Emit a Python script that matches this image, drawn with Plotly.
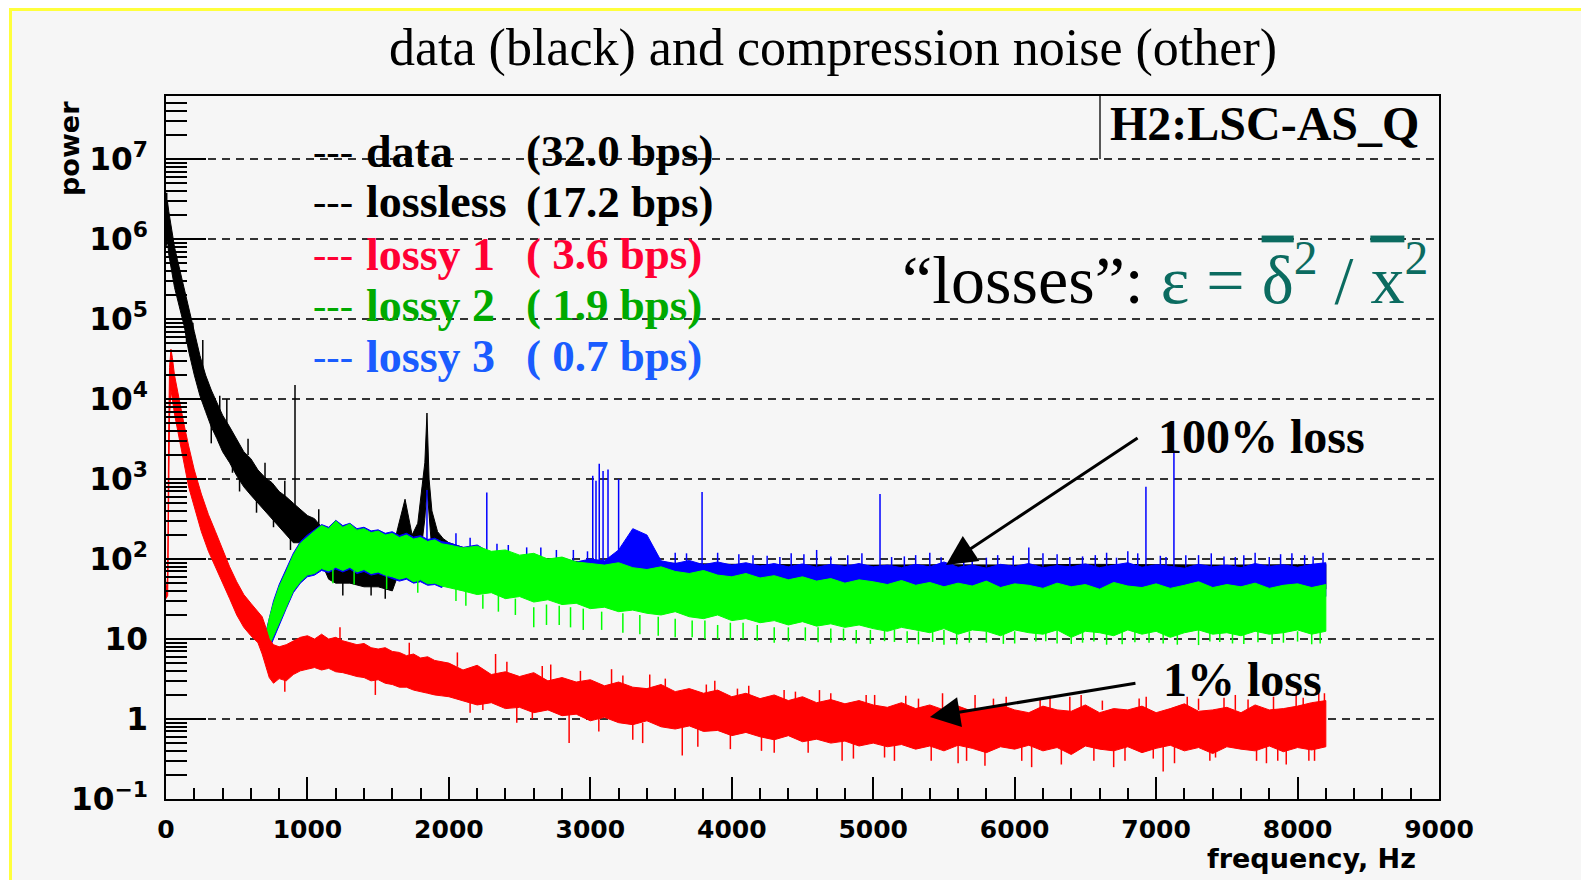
import plotly.graph_objects as go

# ---------------- data ----------------
HF_F = [2000, 2100, 2200, 2300, 2400, 2500, 2600, 2700, 2800, 2900,
        3000, 3100, 3200, 3300, 3400, 3500, 3600, 3700, 3800, 3900,
        4000, 4100, 4200, 4300, 4400, 4500, 4600, 4700, 4800, 4900,
        5000, 5100, 5200, 5300, 5400, 5500, 5600, 5700, 5800, 5900,
        6000, 6100, 6200, 6300, 6400, 6500, 6600, 6700, 6800, 6900,
        7000, 7100, 7200, 7300, 7400, 7500, 7600, 7700, 7800, 7900,
        8000, 8100, 8200]

# black: data
DATA_F = [0, 10, 20, 40, 60, 80, 100, 130, 160, 200, 240, 280, 320, 360, 400, 450, 500, 550, 600, 650,
          700, 750, 800, 850, 900, 950, 1000, 1050, 1100, 1150, 1200, 1300, 1400, 1500, 1600, 1640, 1690,
          1740, 1780, 1810, 1830, 1845, 1860, 1880, 1920, 1960, 2000, 2100, 2200, 2300, 2400, 2500,
          3000, 3500, 4000, 4500, 5000, 5500, 6000, 6500, 7000, 7500, 8000, 8200]
DATA_UP = [2.5e6, 3.0e6, 2.2e6, 1.3e6, 8.0e5, 5.6e5, 4.0e5, 2.5e5, 1.4e5, 7.0e4, 3.5e4, 2.0e4, 1.3e4, 9.0e3,
           6.3e3, 4.5e3, 3.2e3, 2.2e3, 1.8e3, 1.3e3, 1.05e3, 900, 700, 600, 500, 420, 350, 320, 250, 160,
           140, 125, 125, 110, 125, 250, 560, 200, 280, 800, 1600, 6700, 1000, 400, 220, 180, 160, 140,
           125, 110, 105, 100, 92, 88, 86, 85, 84, 85, 84, 86, 85, 84, 85, 86]
DATA_LO = [8e5, 1e6, 6.3e5, 4e5, 2.5e5, 1.8e5, 1.26e5, 8e4, 4e4, 2e4, 1.1e4, 7e3, 4.5e3, 3.2e3, 2.2e3,
           1.6e3, 1.1e3, 800, 630, 500, 400, 320, 250, 200, 160, 160, 140, 125, 90, 56, 50, 50, 45, 45,
           40, 63, 125, 70, 80, 160, 320, 800, 320, 125, 80, 63, 63, 56, 52, 50, 48, 45, 42, 42, 42, 42,
           42, 42, 42, 42, 42, 42, 42, 42]
DATA_SPIKE_F = [5, 145, 190, 260, 320, 380, 430, 470, 520, 580, 640, 700, 760, 840, 880, 912, 1000,
                1080, 1250, 1450, 1550]
DATA_SPIKE_LO = [1.0e6, 5.0e4, 5.0e4, 2.0e4, 2800, 6000, 3.0e3, 1200, 700, 2000, 380, 900, 250, 550,
                 130, 200, 100, 230, 35, 35, 32]
DATA_SPIKE_HI = [3.8e6, 1.2e5, 9.0e4, 5.5e4, 5000, 1.1e4, 1.0e4, 2000, 1300, 3200, 630, 1600, 400, 950,
                 220, 1.5e4, 160, 420, 55, 50, 48]

# red: lossy 1
RED_F = [0, 12, 18, 25, 35, 45, 60, 80, 100, 130, 160, 200, 250, 300, 350, 400, 450, 500, 550, 600,
         650, 680, 700, 730, 760, 800, 850, 900, 950, 1000, 1050, 1100, 1150, 1200, 1250, 1300, 1350,
         1400, 1450, 1500, 1550, 1600, 1650, 1700, 1750, 1800, 1850, 1900, 1950] + HF_F
RED_UP = [40, 60, 3000, 2.5e4, 4.2e4, 3.3e4, 2.0e4, 1.3e4, 8000, 4600, 2600, 1300, 650, 360, 220, 130,
          80, 52, 36, 28, 22, 19, 15, 10, 8.5, 8, 8.5, 9.5, 10.5, 11, 10, 11.5, 10, 10.5, 9.5, 9, 8.5,
          8.8, 7.8, 7.5, 7.8, 7, 6.8, 6.2, 6.5, 5.8, 6, 5.4, 5.2,
          5.0, 4.1, 4.7, 3.6, 3.9, 3.4, 3.8, 3.0, 3.3, 2.9, 3.1, 2.6, 2.9, 2.5, 2.4, 2.7, 2.2, 2.4, 2.1,
          2.3, 1.9, 2.1, 1.8, 2.0, 1.7, 1.9, 1.6, 1.75, 1.55, 1.7, 1.5, 1.4, 1.6, 1.35, 1.5, 1.3, 1.45,
          1.25, 1.4, 1.5, 1.3, 1.2, 1.45, 1.3, 1.25, 1.5, 1.2, 1.35, 1.3, 1.45, 1.2, 1.35, 1.55, 1.25,
          1.3, 1.4, 1.2, 1.5, 1.3, 1.35, 1.45, 1.6, 1.7]
RED_LO = [32, 35, 300, 6000, 1.3e4, 1.0e4, 6500, 4500, 2800, 1500, 800, 450, 220, 125, 80, 50, 32, 20,
          14, 11, 9, 6.5, 5, 3.3, 2.8, 3.2, 3.0, 3.6, 4.0, 4.2, 4.4, 4.1, 4.3, 3.9, 3.8, 3.6, 3.4, 3.3,
          3.0, 3.1, 2.8, 2.7, 2.5, 2.5, 2.3, 2.2, 2.1, 2.0, 1.95,
          1.9, 1.7, 1.5, 1.6, 1.35, 1.4, 1.2, 1.3, 1.1, 1.15, 0.95, 1.05, 0.9, 0.85, 0.95, 0.8, 0.75,
          0.82, 0.7, 0.72, 0.62, 0.68, 0.6, 0.55, 0.62, 0.52, 0.56, 0.5, 0.53, 0.46, 0.5, 0.45, 0.48,
          0.42, 0.46, 0.4, 0.47, 0.43, 0.38, 0.45, 0.42, 0.47, 0.4, 0.44, 0.36, 0.46, 0.42, 0.4, 0.45,
          0.38, 0.43, 0.47, 0.4, 0.44, 0.37, 0.45, 0.42, 0.4, 0.46, 0.39, 0.44, 0.41, 0.45]
RED_SPIKE_F = [840, 1230, 1480, 1720, 2150, 2330, 2480, 2720, 2850, 3150, 3300, 3420, 3650, 3880, 3990,
               4120, 4300, 4450, 4620, 4780, 4950, 5080, 5230, 5410, 5600, 5720, 5850, 6120, 6250, 6390,
               6560, 6700, 6880, 6980, 7050, 7220, 7380, 7480, 7650, 7780, 7860, 7990, 8080, 8150,
               2060, 2240, 2410, 2590, 2660, 2930, 3060, 3230, 3370, 3530, 3760, 3820, 4040, 4210,
               4370, 4540, 4700, 4860, 5010, 5150, 5320, 5490, 5660, 5790, 5940, 6050, 6180, 6330,
               6470, 6620, 6780, 6930, 7130, 7300, 7420, 7560, 7710, 7830, 7920, 8040, 8120, 8190]
RED_SPIKE_LO = [2.2, 8, 2.0, 5, 1.2, 3.5, 0.9, 2.8, 0.5, 2.5, 0.55, 2.2, 0.35, 1.9, 0.42,
                1.7, 0.38, 1.0, 1.5, 0.3, 1.4, 0.33, 1.3, 0.3, 0.28, 1.3, 1.3, 0.25, 1.3, 1.0,
                0.3, 0.25, 1.3, 0.32, 0.22, 1.3, 0.3, 1.0, 1.3, 0.28, 0.3, 1.3, 0.3, 1.0,
                4.5, 1.3, 3.6, 1.0, 3.2, 2.8, 0.7, 2.5, 0.5, 2.1, 0.45, 1.9, 1.8, 0.4,
                1.6, 0.38, 1.5, 0.32, 1.4, 0.3, 1.3, 1.3, 0.3, 0.26, 1.3, 0.3, 1.3, 0.27,
                1.3, 1.3, 0.3, 1.3, 0.28, 1.3, 0.33, 1.3, 0.3, 1.3, 0.27, 1.3, 0.3, 1.4]
RED_SPIKE_HI = [5.0, 14, 4.0, 9, 2.0, 6.5, 1.6, 4.8, 1.2, 4.2, 1.0, 3.6, 0.8, 3.0, 0.7,
                2.6, 0.6, 2.2, 2.3, 0.6, 2.0, 0.55, 1.95, 0.5, 0.5, 2.0, 1.8, 0.5, 1.85, 1.9,
                0.5, 0.5, 1.8, 0.5, 0.5, 1.9, 0.5, 1.85, 1.75, 0.5, 0.5, 2.0, 0.5, 2.4,
                6.8, 2.2, 5.2, 1.6, 4.6, 4.0, 1.1, 3.5, 0.9, 3.2, 0.75, 2.7, 2.4, 0.65,
                2.3, 0.55, 2.1, 0.52, 2.0, 0.5, 1.8, 2.1, 0.45, 0.45, 1.9, 0.45, 1.75, 0.45,
                2.0, 1.7, 0.45, 1.9, 0.45, 1.8, 0.45, 2.0, 0.45, 1.9, 0.45, 1.85, 0.45, 2.1]

# green: lossy 2
LOW_F = [700, 730, 760, 800, 850, 900, 950, 1000, 1050, 1100, 1150, 1200, 1250, 1300, 1350, 1400,
         1450, 1500, 1550, 1600, 1650, 1700, 1750, 1800, 1850, 1900, 1950]
GREEN_F = LOW_F + HF_F
GREEN_UP = [10, 18, 28, 45, 70, 112, 158, 190, 224, 263, 240, 300, 250, 275, 230, 240, 214, 224, 200,
            209, 186, 200, 178, 186, 166, 174, 155,
            150, 138, 145, 125, 130, 112, 118, 100, 106, 92, 88, 84, 90, 78, 74, 80, 70, 66, 72, 63,
            60, 66, 58, 62, 55, 60, 53, 57, 50, 55, 52, 48, 54, 47, 51, 45, 50, 46, 53, 44, 49, 47,
            43, 50, 45, 48, 42, 51, 46, 44, 49, 43, 47, 52, 44, 48, 45, 50, 43, 47, 49, 44, 48]
GREEN_LO = [6.3, 8, 11, 16, 25, 40, 52, 63, 66, 76, 71, 79, 72, 79, 69, 74, 66, 69, 63, 60, 56, 59,
            52, 55, 49, 50, 46,
            44, 40, 36, 38, 32, 34, 29, 31, 27, 28, 24, 25, 22, 23, 21, 20, 22, 19, 18, 20, 17, 18, 16,
            17, 15, 16.5, 14.5, 15.5, 14, 15, 13.5, 12.5, 14, 13, 12, 13.5, 11.5, 13, 12.5, 11, 13, 12,
            11.5, 13, 10.5, 12.5, 12, 11, 13, 11.5, 12.5, 10.5, 12, 13, 11.5, 12, 11, 12.5, 11.5, 12,
            13, 11.5, 12.5]
GREEN_SPIKE_F = [1180, 1330, 1560, 1780, 2120, 2350, 2600, 2780, 2950, 3230, 3480, 3720, 3900, 4080,
                 4300, 4520, 4700, 4880, 5150, 5320, 5500, 5680, 5920, 6150, 6300, 6480, 6650, 6850,
                 7050, 7300, 7450, 7620, 7900, 8100,
                 2050, 2240, 2470, 2690, 2860, 3080, 3350, 3600, 3810, 3990, 4180, 4400, 4610, 4790,
                 4980, 5080, 5240, 5420, 5590, 5800, 6000, 6220, 6400, 6560, 6760, 6950, 7150, 7380,
                 7540, 7720, 7820, 8000, 8160]
GREEN_SPIKE_LO = [50, 48, 42, 38, 26, 22, 14, 15, 13, 12, 11, 10.5, 10, 10, 9, 9.5, 9, 8.8, 9.2, 8.6,
                  8.5, 9, 8.7, 9.3, 8.8, 9, 8.5, 9.1, 8.8, 8.4, 9.2, 8.7, 9, 8.6,
                  30, 24, 20, 15, 14, 13, 11.5, 10.5, 10, 9.8, 9.5, 9.3, 9.1, 9.5,
                  8.7, 9.4, 8.9, 9.2, 8.6, 9.0, 8.8, 9.4, 8.7, 9.3, 8.6, 9.0, 8.5, 9.3,
                  8.8, 9.1, 8.7, 9.3, 8.8]
GREEN_SPIKE_HI = [75, 72, 62, 55, 40, 35, 25, 26, 24, 21, 19, 17, 15, 16, 14, 14, 13.5, 13, 13, 12.5,
                  13, 12.5, 12.5, 12.5, 13, 12.5, 12.5, 12.5, 12.5, 13, 12.5, 12.5, 13, 12.5,
                  44, 36, 32, 27, 25, 22, 20, 18, 17, 16, 15, 14, 14, 13.5,
                  13, 13, 12.5, 12.5, 12.5, 12.5, 12.5, 12.5, 12.5, 12.5, 12.5, 12.5, 12.5, 12.5,
                  12.5, 12.5, 12.5, 12.5, 12.5]

# blue: lossy 3
BLUE_F = LOW_F + HF_F
BLUE_UP = [11, 19, 30, 48, 75, 118, 165, 200, 232, 270, 250, 305, 262, 280, 240, 250, 225, 232, 210,
           220, 196, 210, 188, 196, 176, 182, 165,
           160, 140, 150, 118, 125, 105, 112, 98, 104, 92, 100, 95, 130, 240, 200, 95, 88, 96, 85, 92,
           84, 90, 82, 88, 80, 87, 79, 86, 81, 88, 80, 84, 78, 86, 80, 92, 79, 84, 77, 86, 81, 88, 78,
           83, 80, 87, 78, 84, 90, 79, 85, 81, 77, 86, 80, 84, 78, 88, 81, 85, 79, 86, 90]
BLUE_LO = [6, 7.5, 10.5, 15, 24, 38, 50, 60, 63, 72, 68, 75, 69, 75, 66, 70, 63, 66, 60, 57, 53, 56,
           50, 52, 47, 48, 44,
           55, 52, 50, 48, 46, 44, 43, 42, 41, 40, 40, 39, 45, 60, 55, 38, 37, 36, 36, 35, 35, 34, 35,
           34, 33, 34, 33, 34, 33, 34, 33, 33, 34, 33, 32, 34, 33, 32, 33, 34, 33, 32, 33, 34, 32, 33,
           34, 33, 32, 33, 34, 33, 32, 33, 34, 33, 32, 33, 34, 33, 32, 33, 34]
BLUE_SPIKE_F = [1845, 2050, 2268, 2420, 2650, 2880, 3017, 3040, 3063, 3090, 3125, 3200, 3600, 3790,
                4050, 4250, 4420, 4600, 4820, 5048, 5220, 5400, 5560, 5700, 5880, 6100, 6300, 6480,
                6650, 6800, 6928, 7030, 7126, 7300, 7480, 7700, 7880, 8050, 8180,
                2150, 2340, 2550, 2760, 2980, 3450, 3680, 3900, 4150, 4340, 4510, 4700, 4920, 5130,
                5300, 5480, 5640, 5800, 5990, 6200, 6390, 6570, 6720, 6870, 7070, 7210, 7390, 7560,
                7620, 7800, 7960, 8110]
BLUE_SPIKE_LO = [150, 150, 100, 110, 100, 95, 90, 90, 90, 90, 90, 90, 85, 85,
                 82, 80, 80, 80, 80, 80, 78, 80, 80, 80, 78, 82, 80, 80,
                 80, 85, 80, 78, 80, 80, 80, 80, 80, 78, 80,
                 140, 118, 105, 98, 95, 95, 88, 88, 82, 80, 80, 80, 80, 78,
                 80, 80, 80, 78, 80, 80, 80, 80, 80, 80, 78, 80, 80, 80,
                 78, 80, 80, 80]
BLUE_SPIKE_HI = [730, 210, 680, 150, 140, 130, 1100, 950, 1550, 1260, 1320, 1000, 120, 690,
                 115, 110, 118, 130, 112, 650, 108, 120, 110, 125, 112, 140, 115, 108,
                 120, 125, 800, 110, 2200, 112, 108, 120, 115, 112, 120,
                 185, 155, 140, 130, 125, 130, 118, 120, 112, 106, 115, 108, 118, 106,
                 112, 105, 116, 104, 110, 118, 106, 112, 104, 118, 106, 112, 118, 106,
                 112, 106, 118, 108]

LEGEND_NAMES = ["data", "lossless", "lossy 1", "lossy 2", "lossy 3"]
LEGEND_RATES = ["(32.0 bps)", "(17.2 bps)", "(\u00a03.6 bps)", "(\u00a01.9 bps)", "(\u00a00.7 bps)"]
LEGEND_COLORS = ["#000000", "#000000", "#ff0033", "#00aa00", "#1a5cff"]

X_TICKS = [0, 1000, 2000, 3000, 4000, 5000, 6000, 7000, 8000, 9000]

# ---------------- layout geometry ----------------
W, H = 1581, 880
LM, RM, TM, BM = 166, 142, 96, 81
PW = W - LM - RM
PH = H - TM - BM


def px(x):
    return (x - LM) / PW


def py(y):
    return (H - BM - y) / PH


def band(f, up, lo, color):
    xs = list(f) + list(f)[::-1]
    ys = list(up) + list(lo)[::-1]
    return go.Scatter(x=xs, y=ys, mode="lines", fill="toself", fillcolor=color,
                      line=dict(color=color, width=1), hoverinfo="skip", showlegend=False)


def spikes(f, lo, hi, color, w=1.5):
    xs, ys = [], []
    for a, b, c in zip(f, lo, hi):
        xs += [a, a, None]
        ys += [b, c, None]
    return go.Scatter(x=xs, y=ys, mode="lines", line=dict(color=color, width=w),
                      hoverinfo="skip", showlegend=False)


fig = go.Figure()
fig.add_trace(band(DATA_F, DATA_UP, DATA_LO, "#000000"))
fig.add_trace(spikes(DATA_SPIKE_F, DATA_SPIKE_LO, DATA_SPIKE_HI, "#000000"))
fig.add_trace(band(BLUE_F, BLUE_UP, BLUE_LO, "#0000ff"))
fig.add_trace(spikes(BLUE_SPIKE_F, BLUE_SPIKE_LO, BLUE_SPIKE_HI, "#0000ff"))
fig.add_trace(band(GREEN_F, GREEN_UP, GREEN_LO, "#00ff00"))
fig.add_trace(spikes(GREEN_SPIKE_F, GREEN_SPIKE_LO, GREEN_SPIKE_HI, "#00ff00"))
fig.add_trace(band(RED_F, RED_UP, RED_LO, "#ff0000"))
fig.add_trace(spikes(RED_SPIKE_F, RED_SPIKE_LO, RED_SPIKE_HI, "#ff0000"))

BG = "#f6f6f6"
TICKFONT = dict(family="DejaVu Sans", size=25, color="#000000", weight="bold")

fig.update_layout(
    width=W, height=H,
    margin=dict(l=LM, r=RM, t=TM, b=BM, pad=0),
    paper_bgcolor=BG, plot_bgcolor=BG,
    showlegend=False,
    xaxis=dict(range=[0, 9000], tickmode="array", tickvals=X_TICKS,
               ticks="inside", ticklen=22, tickwidth=2, tickcolor="#000",
               minor=dict(dtick=200, ticks="inside", ticklen=11, tickwidth=2, tickcolor="#000"),
               showline=True, linewidth=2, linecolor="#000", mirror=True,
               showgrid=False, zeroline=False, tickfont=TICKFONT, ticklabelstandoff=7),
    yaxis=dict(type="log", range=[-1, 7.79], tickmode="linear", tick0=0, dtick=1,
               exponentformat="power",
               ticks="inside", ticklen=40, tickwidth=2, tickcolor="#000",
               minor=dict(dtick="D1", ticks="inside", ticklen=21, tickwidth=2, tickcolor="#000",
                          showgrid=False),
               showline=True, linewidth=2, linecolor="#000", mirror=True,
               showgrid=True, gridcolor="#333333", gridwidth=1.5, griddash="8px,6px",
               zeroline=False, tickfont=TICKFONT, ticklabelstandoff=11),
)

shapes = [
    dict(type="rect", xref="paper", yref="paper", x0=px(0), x1=px(W), y0=py(0), y1=py(8),
         fillcolor="#ffffff", line=dict(width=0), layer="below"),
    dict(type="rect", xref="paper", yref="paper", x0=px(0), x1=px(9), y0=py(0), y1=py(H),
         fillcolor="#ffffff", line=dict(width=0), layer="below"),
    dict(type="rect", xref="paper", yref="paper", x0=px(9), x1=px(W), y0=py(8), y1=py(11),
         fillcolor="#ffff3c", line=dict(width=0), layer="below"),
    dict(type="rect", xref="paper", yref="paper", x0=px(9), x1=px(12), y0=py(8), y1=py(H),
         fillcolor="#ffff3c", line=dict(width=0), layer="below"),
    dict(type="line", xref="paper", yref="paper", x0=px(1100), x1=px(1100), y0=py(96), y1=py(159),
         line=dict(color="#222", width=1.5)),
]
fig.update_layout(shapes=shapes)

ann = []
SERIF = "Liberation Serif"
ann.append(dict(text="data (black) and compression noise (other)", x=px(833), y=py(48),
                xanchor="center", yanchor="middle",
                font=dict(family=SERIF, size=52, color="#000")))
ann.append(dict(text="power", x=px(69), y=py(149), textangle=-90, xanchor="center", yanchor="middle",
                font=dict(family="DejaVu Sans", size=27, color="#000", weight="bold")))
ann.append(dict(text="frequency, Hz", x=px(1418), y=py(858), xanchor="right", yanchor="middle",
                font=dict(family="DejaVu Sans", size=27, color="#000", weight="bold")))

LEG_Y = [151, 202, 254, 305, 356]
for name, rate, col, yy in zip(LEGEND_NAMES, LEGEND_RATES, LEGEND_COLORS, LEG_Y):
    ann.append(dict(text="---", x=px(311), y=py(yy), xanchor="left", yanchor="middle",
                    font=dict(family=SERIF, size=40, color=col)))
    ann.append(dict(text=name, x=px(364), y=py(yy), xanchor="left", yanchor="middle",
                    font=dict(family=SERIF, size=46, color=col, weight="bold")))
    ann.append(dict(text=rate, x=px(524), y=py(yy), xanchor="left", yanchor="middle",
                    font=dict(family=SERIF, size=45, color=col, weight="bold")))

ann.append(dict(text="H2:LSC-AS_Q", x=px(1264), y=py(123), xanchor="center", yanchor="middle",
                font=dict(family=SERIF, size=48, color="#000", weight="bold")))
ann.append(dict(text='\u201closses\u201d: <span style="color:#0b6b60">\u03b5 = '
                     '<span style="text-decoration:overline">\u03b4</span><sup>2</sup> / '
                     '<span style="text-decoration:overline">x</span><sup>2</sup></span>',
                x=px(900), y=py(275), xanchor="left", yanchor="middle",
                font=dict(family=SERIF, size=68, color="#000")))
ann.append(dict(text="100% loss", x=px(1156), y=py(436), xanchor="left", yanchor="middle",
                font=dict(family=SERIF, size=48, color="#000", weight="bold")))
ann.append(dict(text="1% loss", x=px(1161), y=py(679), xanchor="left", yanchor="middle",
                font=dict(family=SERIF, size=48, color="#000", weight="bold")))

for a in ann:
    a.update(xref="paper", yref="paper", showarrow=False)

ann.append(dict(text="", x=5515, y=1.926, xref="x", yref="y", showarrow=True, ax=193, ay=-128,
                arrowhead=2, arrowsize=2, arrowwidth=3, arrowcolor="#000"))
ann.append(dict(text="", x=5401, y=0.025, xref="x", yref="y", showarrow=True, ax=207, ay=-34,
                arrowhead=2, arrowsize=2, arrowwidth=3, arrowcolor="#000"))

fig.update_layout(annotations=ann)
fig.write_html("out.html")
